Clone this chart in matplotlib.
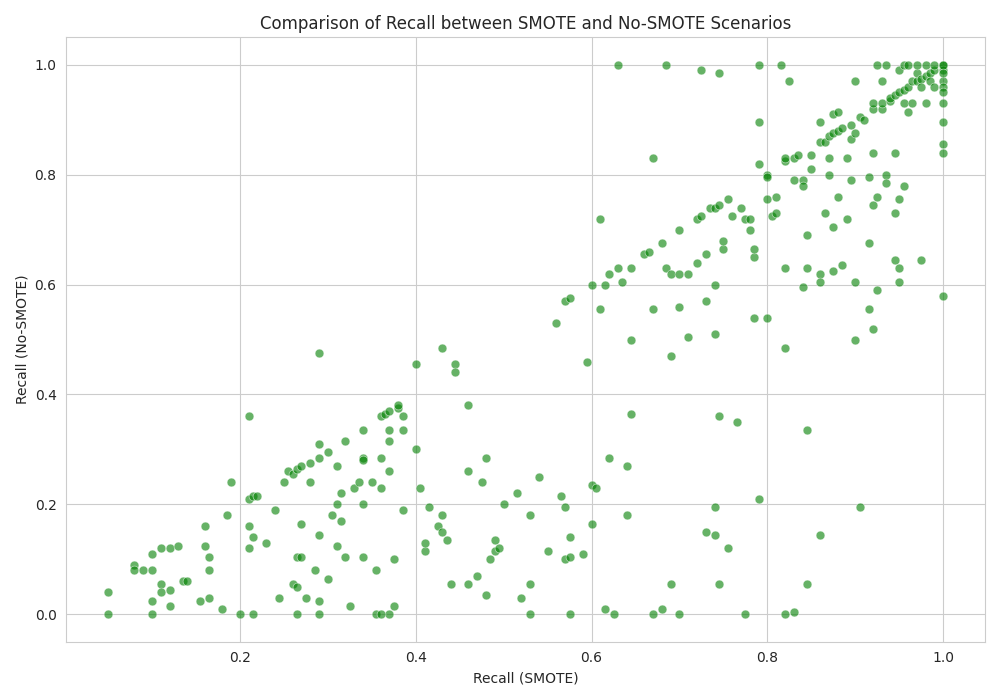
import numpy as np
import matplotlib.pyplot as plt
import seaborn as sns

# recall pairs (SMOTE, No-SMOTE)
pts = [
(0.05,0.04),(0.05,0),(0.08,0.09),(0.08,0.08),(0.09,0.08),(0.1,0.11),(0.1,0.08),(0.1,0.025),(0.11,0.12),(0.11,0.055),
(0.11,0.04),(0.1,0),(0.12,0.12),(0.13,0.125),(0.12,0.015),(0.12,0.045),(0.135,0.06),(0.14,0.06),(0.155,0.025),(0.16,0.16),
(0.16,0.125),(0.165,0.105),(0.165,0.08),(0.165,0.03),(0.18,0.01),(0.185,0.18),(0.19,0.24),(0.2,0),(0.21,0.36),(0.21,0.21),
(0.215,0.215),(0.22,0.215),(0.21,0.16),(0.215,0.14),(0.21,0.12),(0.215,0),(0.23,0.13),(0.24,0.19),(0.245,0.03),(0.25,0.24),
(0.255,0.26),(0.26,0.255),(0.265,0.265),(0.27,0.27),(0.26,0.055),(0.265,0.05),(0.265,0.105),(0.27,0.105),(0.27,0.165),(0.275,0.03),
(0.28,0.24),(0.28,0.275),(0.265,0),(0.29,0.475),(0.29,0.31),(0.29,0.285),(0.29,0.145),(0.285,0.08),(0.29,0.025),(0.29,0),
(0.3,0.065),(0.3,0.295),(0.305,0.18),(0.31,0.27),(0.31,0.125),(0.31,0.2),(0.315,0.22),(0.315,0.17),(0.32,0.315),(0.32,0.105),
(0.325,0.015),(0.33,0.23),(0.335,0.24),(0.34,0.335),(0.34,0.285),(0.34,0.28),(0.34,0.2),(0.34,0.105),(0.35,0.24),(0.355,0.08),
(0.355,0),(0.36,0.36),(0.36,0.285),(0.36,0.23),(0.365,0.365),(0.37,0.37),(0.37,0.335),(0.37,0.315),(0.37,0.26),(0.37,0.0),
(0.375,0.015),(0.375,0.1),(0.38,0.375),(0.38,0.38),(0.385,0.335),(0.385,0.36),(0.385,0.19),(0.36,0),(0.4,0.455),(0.4,0.3),
(0.405,0.23),(0.41,0.115),(0.41,0.13),(0.415,0.195),(0.425,0.16),(0.43,0.485),(0.43,0.15),(0.43,0.18),(0.435,0.135),(0.44,0.055),
(0.445,0.455),(0.445,0.44),(0.46,0.38),(0.46,0.26),(0.46,0.055),(0.47,0.07),(0.475,0.24),(0.48,0.285),(0.48,0.035),(0.485,0.1),
(0.49,0.135),(0.49,0.115),(0.495,0.12),(0.5,0.2),(0.515,0.22),(0.52,0.03),(0.53,0.18),(0.53,0.055),(0.53,0),(0.54,0.25),
(0.55,0.115),(0.56,0.53),(0.565,0.215),(0.57,0.57),(0.575,0.575),(0.57,0.195),(0.57,0.1),(0.575,0.105),(0.575,0.14),(0.575,0),
(0.59,0.11),(0.595,0.46),(0.6,0.6),(0.6,0.235),(0.6,0.165),(0.605,0.23),(0.61,0.72),(0.61,0.555),(0.615,0.6),(0.615,0.01),
(0.62,0.62),(0.62,0.285),(0.625,0),(0.63,1.0),(0.63,0.63),(0.635,0.605),(0.64,0.27),(0.64,0.18),(0.645,0.63),(0.645,0.5),
(0.645,0.365),(0.66,0.655),(0.665,0.66),(0.67,0.83),(0.67,0.555),(0.67,0),(0.68,0.675),(0.68,0.01),(0.685,1.0),(0.685,0.63),
(0.69,0.62),(0.69,0.47),(0.69,0.055),(0.7,0.7),(0.7,0.56),(0.7,0.62),(0.7,0),(0.71,0.62),(0.71,0.505),(0.72,0.72),
(0.72,0.64),(0.725,0.725),(0.725,0.99),(0.73,0.655),(0.73,0.57),(0.73,0.15),(0.735,0.74),(0.74,0.74),(0.74,0.6),(0.74,0.51),
(0.74,0.195),(0.74,0.145),(0.745,0.745),(0.745,0.985),(0.745,0.36),(0.745,0.055),(0.75,0.665),(0.75,0.68),(0.755,0.755),(0.755,0.12),
(0.76,0.725),(0.765,0.35),(0.77,0.74),(0.775,0.72),(0.775,0),(0.78,0.72),(0.78,0.7),(0.785,0.65),(0.785,0.54),(0.785,0.665),
(0.79,1.0),(0.79,0.895),(0.79,0.82),(0.79,0.21),(0.8,0.8),(0.8,0.795),(0.8,0.755),(0.8,0.54),(0.805,0.725),(0.81,0.76),
(0.81,0.73),(0.815,1.0),(0.82,0.825),(0.82,0.83),(0.82,0.63),(0.82,0.485),(0.82,0),(0.825,0.97),(0.83,0.83),(0.83,0.79),
(0.83,0.005),(0.835,0.835),(0.84,0.595),(0.84,0.79),(0.84,0.78),(0.845,0.63),(0.845,0.69),(0.845,0.335),(0.845,0.055),(0.85,0.81),
(0.85,0.835),(0.86,0.86),(0.86,0.895),(0.86,0.62),(0.86,0.605),(0.86,0.145),(0.865,0.73),(0.865,0.86),(0.87,0.87),(0.87,0.83),
(0.87,0.8),(0.875,0.875),(0.875,0.91),(0.875,0.625),(0.875,0.705),(0.88,0.88),(0.88,0.915),(0.88,0.76),(0.885,0.885),(0.885,0.635),
(0.89,0.72),(0.89,0.83),(0.895,0.89),(0.895,0.865),(0.895,0.79),(0.9,0.97),(0.9,0.875),(0.9,0.605),(0.9,0.5),(0.905,0.905),
(0.905,0.195),(0.91,0.9),(0.915,0.795),(0.915,0.675),(0.915,0.555),(0.92,0.92),(0.92,0.93),(0.92,0.84),(0.92,0.745),(0.92,0.52),
(0.925,1.0),(0.925,0.76),(0.925,0.59),(0.93,0.92),(0.93,0.97),(0.93,0.93),(0.935,1.0),(0.935,0.8),(0.935,0.785),(0.94,0.935),
(0.94,0.94),(0.945,0.945),(0.945,0.84),(0.945,0.73),(0.945,0.645),(0.95,0.95),(0.95,0.99),(0.95,0.755),(0.95,0.63),(0.95,0.605),
(0.955,1.0),(0.955,0.955),(0.955,0.93),(0.955,0.78),(0.96,1.0),(0.96,0.96),(0.96,0.915),(0.965,0.97),(0.965,0.93),(0.97,0.97),
(0.97,0.985),(0.97,1.0),(0.975,0.975),(0.975,0.96),(0.975,0.645),(0.98,0.98),(0.98,1.0),(0.98,0.93),(0.985,0.985),(0.985,0.97),
(0.99,0.99),(0.99,1.0),(0.99,0.96),(1,1),(1,0.99),(1,0.97),(1,0.96),(1,0.95),(1,0.93),(1,0.895),
(1,0.855),(1,0.84),(1,0.58),(1,1),(1,0.985),
]
recall_smote = np.array([p[0] for p in pts])
recall_no_smote = np.array([p[1] for p in pts])

sns.set_style('whitegrid')
plt.figure(figsize=(10, 7), dpi=100)
sns.scatterplot(x=recall_smote, y=recall_no_smote, color='green', alpha=0.6, s=40)
plt.xlabel('Recall (SMOTE)')
plt.ylabel('Recall (No-SMOTE)')
plt.title('Comparison of Recall between SMOTE and No-SMOTE Scenarios')
plt.tight_layout()
plt.savefig('out.png')
